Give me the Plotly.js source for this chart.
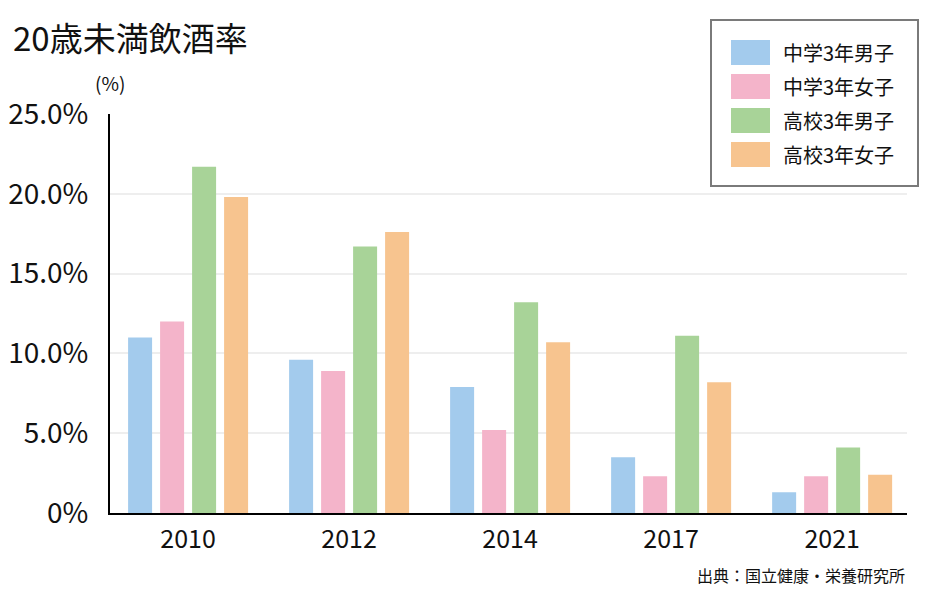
<!DOCTYPE html>
<html>
<head>
<meta charset="utf-8">
<script src="https://cdn.plot.ly/plotly-3.0.1.min.js"></script>
<style>
  html, body { margin: 0; padding: 0; background: #fff; }
  #chart { width: 940px; height: 600px; }
</style>
</head>
<body>
<div id="chart"></div>
<script>
// 20歳未満飲酒率 (%), 出典：国立健康・栄養研究所
let years = ['2010', '2012', '2014', '2017', '2021'];
let names = ['中学3年男子', '中学3年女子', '高校3年男子', '高校3年女子'];
let colors = ['#a3cbed', '#f4b4ca', '#a8d398', '#f7c48f'];

let jhsBoys  = [11.0, 9.6, 7.9, 3.5, 1.3];
let jhsGirls = [12.0, 8.9, 5.2, 2.3, 2.3];
let hsBoys   = [21.7, 16.7, 13.2, 11.1, 4.1];
let hsGirls  = [19.8, 17.6, 10.7, 8.2, 2.4];

let yTicks = [0, 5, 10, 15, 20, 25];
let yTickText = ['0%', '5.0%', '10.0%', '15.0%', '20.0%', '25.0%'];

let series = [jhsBoys, jhsGirls, hsBoys, hsGirls];
let font = '"Noto Sans CJK JP", "Noto Sans", sans-serif';

// plot area in pixels (for placing the hand drawn legend)
let L = 110, R = 907, T = 114, B = 513;
function px(x) { return (x - L) / (R - L); }
function py(y) { return (B - y) / (B - T); }

let data = series.map((vals, i) => ({
  type: 'bar',
  x: years,
  y: vals,
  name: names[i],
  marker: { color: colors[i] },
  hoverinfo: 'x+y+name'
}));

// legend box, swatches and labels
let shapes = [{
  type: 'rect', xref: 'paper', yref: 'paper',
  x0: px(711), x1: px(918), y0: py(20), y1: py(186),
  line: { color: '#7a7a7a', width: 2 }, fillcolor: 'rgba(0,0,0,0)'
}];
let annotations = [];
names.forEach((n, i) => {
  let cy = 52.5 + i * 34;
  shapes.push({
    type: 'rect', xref: 'paper', yref: 'paper',
    x0: px(731), x1: px(770), y0: py(cy + 12.5), y1: py(cy - 12.5),
    line: { width: 0 }, fillcolor: colors[i]
  });
  annotations.push({
    xref: 'paper', yref: 'paper', x: px(781), y: py(cy),
    xanchor: 'left', yanchor: 'middle', showarrow: false,
    text: n, font: { family: font, size: 20, color: '#111' }
  });
});

annotations.push({
  xref: 'paper', yref: 'paper', x: px(110), y: py(82),
  xanchor: 'center', yanchor: 'middle', showarrow: false,
  text: '(%)', font: { family: font, size: 19, color: '#111' }
});
annotations.push({
  xref: 'paper', yref: 'paper', x: px(907), y: py(575),
  xanchor: 'right', yanchor: 'middle', showarrow: false,
  text: '出典：国立健康・栄養研究所', font: { family: font, size: 16, color: '#111' }
});

let layout = {
  width: 940,
  height: 600,
  margin: { l: L, r: 940 - R, t: T, b: 600 - B },
  paper_bgcolor: '#fff',
  plot_bgcolor: '#fff',
  font: { family: font, color: '#111' },
  title: {
    text: '20歳未満飲酒率',
    xref: 'container', yref: 'container',
    x: 13 / 940, xanchor: 'left',
    y: 1 - 39 / 600, yanchor: 'middle',
    font: { family: font, size: 33, color: '#111' }
  },
  showlegend: false,
  barmode: 'group',
  bargap: 0.205,
  bargroupgap: 0.25,
  xaxis: {
    type: 'category',
    range: [-0.485, 4.465],
    showline: true, linecolor: '#000', linewidth: 2,
    showgrid: false, ticks: '',
    ticklabelstandoff: 3,
    tickfont: { family: font, size: 25, color: '#111' },
    fixedrange: true
  },
  yaxis: {
    range: [0, 25],
    tickvals: yTicks,
    ticktext: yTickText,
    showline: true, linecolor: '#000', linewidth: 2,
    showgrid: true, gridcolor: '#eeeeee', gridwidth: 2,
    zeroline: false, ticks: '',
    ticklabelstandoff: 14,
    tickfont: { family: font, size: 28, color: '#111' },
    fixedrange: true
  },
  shapes: shapes,
  annotations: annotations
};

Plotly.newPlot('chart', data, layout, { displayModeBar: false, responsive: false });
</script>
</body>
</html>
